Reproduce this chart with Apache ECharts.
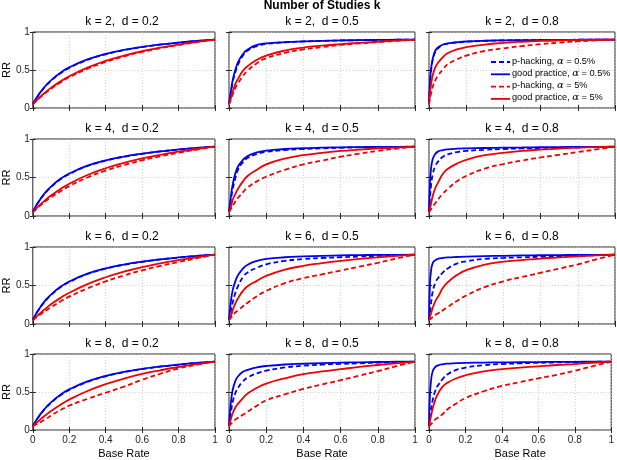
<!DOCTYPE html>
<html><head><meta charset="utf-8">
<script src="https://cdn.jsdelivr.net/npm/echarts@6/dist/echarts.min.js"></script>
<style>html,body{margin:0;padding:0;background:#fff}#c{width:617px;height:460px}</style>
</head><body><div id="c"></div>
<script>
// ---------- data ----------
const baseRate = [0, 0.005, 0.01, 0.02, 0.035, 0.05, 0.075, 0.1, 0.15, 0.2, 0.3, 0.4, 0.5, 0.6, 0.7, 0.8, 0.9, 1];
const xTickLabels = ['0', '0.2', '0.4', '0.6', '0.8', '1'];
const yTickLabels = ['0', '0.5', '1'];
const kValues = [2, 4, 6, 8];
const dValues = [0.2, 0.5, 0.8];
const seriesNames = ['p-hacking, α = 0.5%', 'good practice, α = 0.5%', 'p-hacking, α = 5%', 'good practice, α = 5%'];

// k = 2
const k2d02_phB = [0.05,0.071,0.091,0.130,0.182,0.230,0.300,0.358,0.455,0.528,0.634,0.707,0.761,0.801,0.833,0.859,0.881,0.90];
const k2d02_gpB = [0.05,0.072,0.093,0.133,0.187,0.234,0.305,0.364,0.461,0.534,0.640,0.712,0.765,0.805,0.836,0.861,0.883,0.90];
const k2d02_phR = [0.05,0.061,0.073,0.096,0.129,0.160,0.208,0.254,0.334,0.404,0.517,0.606,0.678,0.738,0.787,0.829,0.866,0.90];
const k2d02_gpR = [0.05,0.063,0.075,0.100,0.135,0.167,0.219,0.265,0.347,0.418,0.532,0.620,0.690,0.748,0.795,0.835,0.870,0.90];

const k2d05_phB = [0.05,0.12,0.20,0.34,0.48,0.58,0.69,0.755,0.815,0.843,0.864,0.875,0.883,0.888,0.892,0.895,0.898,0.90];
const k2d05_gpB = [0.05,0.14,0.22,0.37,0.51,0.61,0.71,0.77,0.83,0.85,0.867,0.877,0.884,0.889,0.893,0.896,0.898,0.90];
const k2d05_phR = [0.05,0.08,0.11,0.18,0.27,0.33,0.42,0.49,0.59,0.655,0.725,0.77,0.80,0.83,0.85,0.866,0.883,0.90];
const k2d05_gpR = [0.05,0.09,0.13,0.22,0.32,0.39,0.49,0.55,0.635,0.69,0.755,0.795,0.82,0.84,0.857,0.872,0.886,0.90];

const k2d08_phB = [0.05,0.30,0.46,0.63,0.745,0.79,0.828,0.845,0.862,0.872,0.883,0.889,0.892,0.895,0.897,0.898,0.899,0.90];
const k2d08_gpB = [0.05,0.33,0.49,0.65,0.76,0.80,0.835,0.85,0.865,0.875,0.885,0.89,0.893,0.895,0.897,0.898,0.899,0.90];
const k2d08_phR = [0.05,0.12,0.18,0.28,0.37,0.43,0.51,0.575,0.64,0.69,0.75,0.785,0.815,0.84,0.86,0.877,0.89,0.90];
const k2d08_gpR = [0.05,0.18,0.29,0.43,0.54,0.60,0.67,0.72,0.77,0.80,0.835,0.857,0.872,0.883,0.89,0.895,0.898,0.90];

// k = 4
const k4d02_phB = [0.05,0.074,0.096,0.139,0.193,0.243,0.316,0.376,0.474,0.545,0.649,0.718,0.769,0.807,0.838,0.862,0.883,0.90];
const k4d02_gpB = [0.05,0.075,0.098,0.142,0.197,0.248,0.322,0.382,0.480,0.550,0.654,0.722,0.772,0.810,0.840,0.864,0.884,0.90];
const k4d02_phR = [0.05,0.061,0.072,0.094,0.125,0.154,0.200,0.243,0.320,0.388,0.500,0.590,0.662,0.724,0.776,0.821,0.862,0.90];
const k4d02_gpR = [0.05,0.063,0.075,0.100,0.135,0.167,0.219,0.265,0.347,0.418,0.532,0.620,0.690,0.748,0.795,0.835,0.870,0.90];

const k4d05_phB = [0.05,0.13,0.21,0.35,0.50,0.61,0.70,0.755,0.805,0.832,0.857,0.87,0.879,0.886,0.891,0.895,0.898,0.90];
const k4d05_gpB = [0.05,0.15,0.25,0.41,0.56,0.65,0.73,0.78,0.825,0.85,0.87,0.88,0.888,0.892,0.895,0.897,0.899,0.90];
const k4d05_phR = [0.05,0.07,0.09,0.13,0.19,0.24,0.31,0.37,0.45,0.51,0.60,0.67,0.72,0.77,0.81,0.845,0.875,0.90];
const k4d05_gpR = [0.05,0.08,0.11,0.21,0.29,0.36,0.45,0.52,0.60,0.67,0.745,0.79,0.82,0.845,0.862,0.877,0.889,0.90];

const k4d08_phB = [0.05,0.22,0.37,0.54,0.655,0.71,0.77,0.80,0.83,0.845,0.86,0.87,0.877,0.883,0.888,0.893,0.897,0.90];
const k4d08_gpB = [0.05,0.41,0.59,0.74,0.81,0.84,0.857,0.866,0.874,0.878,0.883,0.887,0.89,0.893,0.895,0.897,0.899,0.90];
const k4d08_phR = [0.05,0.065,0.085,0.12,0.17,0.22,0.29,0.35,0.45,0.52,0.615,0.675,0.72,0.76,0.795,0.83,0.865,0.90];
const k4d08_gpR = [0.05,0.10,0.15,0.26,0.37,0.44,0.55,0.61,0.68,0.73,0.79,0.82,0.845,0.862,0.876,0.886,0.894,0.90];

// k = 6
const k6d02_phB = [0.05,0.074,0.096,0.139,0.193,0.243,0.316,0.376,0.474,0.545,0.649,0.718,0.769,0.807,0.838,0.862,0.883,0.90];
const k6d02_gpB = [0.05,0.075,0.098,0.142,0.197,0.248,0.322,0.382,0.480,0.550,0.654,0.722,0.772,0.810,0.840,0.864,0.884,0.90];
const k6d02_phR = [0.05,0.059,0.068,0.087,0.114,0.140,0.180,0.218,0.290,0.355,0.462,0.553,0.630,0.697,0.755,0.806,0.854,0.90];
const k6d02_gpR = [0.05,0.061,0.073,0.097,0.130,0.161,0.210,0.256,0.336,0.405,0.518,0.607,0.679,0.739,0.788,0.830,0.867,0.90];

const k6d05_phB = [0.05,0.11,0.17,0.28,0.41,0.50,0.61,0.67,0.73,0.775,0.82,0.843,0.857,0.867,0.876,0.884,0.892,0.90];
const k6d05_gpB = [0.05,0.18,0.29,0.44,0.56,0.64,0.72,0.77,0.82,0.845,0.867,0.878,0.886,0.891,0.895,0.897,0.899,0.90];
const k6d05_phR = [0.05,0.065,0.08,0.11,0.15,0.18,0.23,0.275,0.36,0.43,0.53,0.595,0.645,0.695,0.745,0.795,0.85,0.90];
const k6d05_gpR = [0.05,0.075,0.10,0.18,0.27,0.34,0.43,0.49,0.56,0.625,0.705,0.755,0.79,0.82,0.845,0.865,0.884,0.90];

const k6d08_phB = [0.05,0.14,0.25,0.42,0.54,0.60,0.67,0.72,0.785,0.815,0.845,0.858,0.866,0.873,0.88,0.887,0.894,0.90];
const k6d08_gpB = [0.05,0.51,0.67,0.79,0.83,0.848,0.858,0.864,0.87,0.875,0.881,0.886,0.89,0.893,0.895,0.897,0.899,0.90];
const k6d08_phR = [0.05,0.06,0.07,0.09,0.12,0.14,0.18,0.22,0.30,0.37,0.48,0.555,0.61,0.665,0.72,0.775,0.84,0.90];
const k6d08_gpR = [0.05,0.09,0.13,0.21,0.30,0.36,0.47,0.54,0.635,0.70,0.77,0.81,0.83,0.85,0.865,0.878,0.89,0.90];

// k = 8
const k8d02_phB = [0.05,0.071,0.091,0.130,0.182,0.230,0.300,0.358,0.455,0.528,0.634,0.707,0.761,0.801,0.833,0.859,0.881,0.90];
const k8d02_gpB = [0.05,0.072,0.093,0.133,0.187,0.234,0.305,0.364,0.461,0.534,0.640,0.712,0.765,0.805,0.836,0.861,0.883,0.90];
const k8d02_phR = [0.05,0.056,0.062,0.075,0.095,0.115,0.15,0.19,0.26,0.32,0.41,0.49,0.57,0.66,0.74,0.81,0.86,0.90];
const k8d02_gpR = [0.05,0.061,0.072,0.095,0.127,0.157,0.205,0.250,0.330,0.400,0.513,0.603,0.676,0.737,0.786,0.829,0.866,0.90];

const k8d05_phB = [0.05,0.13,0.22,0.37,0.49,0.56,0.64,0.69,0.745,0.78,0.823,0.845,0.86,0.87,0.878,0.886,0.893,0.90];
const k8d05_gpB = [0.05,0.24,0.36,0.53,0.65,0.71,0.765,0.79,0.825,0.842,0.862,0.872,0.88,0.886,0.891,0.895,0.898,0.90];
const k8d05_phR = [0.05,0.065,0.08,0.105,0.14,0.165,0.20,0.24,0.32,0.39,0.47,0.54,0.60,0.655,0.715,0.775,0.84,0.90];
const k8d05_gpR = [0.05,0.10,0.14,0.22,0.30,0.35,0.42,0.48,0.555,0.61,0.68,0.735,0.77,0.80,0.83,0.855,0.878,0.90];

const k8d08_phB = [0.05,0.15,0.25,0.39,0.52,0.59,0.67,0.73,0.79,0.82,0.853,0.868,0.877,0.884,0.889,0.893,0.897,0.90];
const k8d08_gpB = [0.05,0.45,0.62,0.77,0.83,0.85,0.865,0.873,0.879,0.883,0.887,0.89,0.892,0.894,0.896,0.897,0.899,0.90];
const k8d08_phR = [0.05,0.06,0.075,0.10,0.14,0.165,0.21,0.27,0.35,0.42,0.51,0.58,0.63,0.68,0.725,0.78,0.84,0.90];
const k8d08_gpR = [0.05,0.11,0.17,0.28,0.40,0.48,0.57,0.62,0.68,0.72,0.77,0.80,0.82,0.838,0.855,0.868,0.885,0.90];

const panels = [
  [k2d02_phB, k2d02_gpB, k2d02_phR, k2d02_gpR], [k2d05_phB, k2d05_gpB, k2d05_phR, k2d05_gpR], [k2d08_phB, k2d08_gpB, k2d08_phR, k2d08_gpR],
  [k4d02_phB, k4d02_gpB, k4d02_phR, k4d02_gpR], [k4d05_phB, k4d05_gpB, k4d05_phR, k4d05_gpR], [k4d08_phB, k4d08_gpB, k4d08_phR, k4d08_gpR],
  [k6d02_phB, k6d02_gpB, k6d02_phR, k6d02_gpR], [k6d05_phB, k6d05_gpB, k6d05_phR, k6d05_gpR], [k6d08_phB, k6d08_gpB, k6d08_phR, k6d08_gpR],
  [k8d02_phB, k8d02_gpB, k8d02_phR, k8d02_gpR], [k8d05_phB, k8d05_gpB, k8d05_phR, k8d05_gpR], [k8d08_phB, k8d08_gpB, k8d08_phR, k8d08_gpR]
];

// ---------- layout / style ----------
const colLeft = [29, 229, 429];
const rowTop = [32, 139, 247, 354];
const rowH = [76, 77, 77, 78];
const panelW = 186;
const FONT = 'Liberation Sans, Arial, Helvetica, sans-serif';
const INK = '#262626';
const colors = ['#0000f0', '#0000f0', '#f00000', '#f00000'];
const dashed = [true, false, true, false];
const DASH = [5, 3];

const grids = [], xAxes = [], yAxes = [], series = [], titles = [];
titles.push({text: 'Number of Studies k', left: 322, top: 0, textAlign: 'center', padding: 0,
  textStyle: {fontSize: 12, fontWeight: 'bold', color: '#000', fontFamily: FONT}});

const extraX = [], extraY = [];
for (let r = 0; r < 4; r++) {
  for (let c = 0; c < 3; c++) {
    const idx = r * 3 + c;
    grids.push({left: colLeft[c], top: rowTop[r], width: panelW, height: rowH[r],
      show: true, borderColor: INK, borderWidth: 1, backgroundColor: 'transparent', containLabel: false});
    titles.push({text: 'k = ' + kValues[r] + ',  d = ' + dValues[c], left: colLeft[c] + panelW / 2,
      top: rowTop[r] - 16, textAlign: 'center', padding: 0,
      textStyle: {fontSize: 12, fontWeight: 'normal', color: '#000', fontFamily: FONT}});
    xAxes.push({type: 'value', gridIndex: idx, min: 0, max: 1, interval: 0.2,
      axisLine: {show: false},
      axisTick: {show: true, inside: true, length: 3, lineStyle: {color: INK}},
      axisLabel: {show: r === 3, fontSize: 10, color: INK, margin: 5, fontFamily: FONT,
        formatter: v => xTickLabels[Math.round(v / 0.2)]},
      splitLine: {show: true, lineStyle: {color: '#c4c4c4', type: [1, 2], width: 0.8}},
      name: r === 3 ? 'Base Rate' : '', nameLocation: 'middle', nameGap: 18,
      nameTextStyle: {fontSize: 11, color: '#000', fontFamily: FONT}});
    yAxes.push({type: 'value', gridIndex: idx, min: 0, max: 1, interval: 0.5,
      axisLine: {show: false},
      axisTick: {show: true, inside: true, length: 3, lineStyle: {color: INK}},
      axisLabel: {show: c === 0, fontSize: 10, color: INK, margin: 3, fontFamily: FONT,
        formatter: v => yTickLabels[Math.round(v / 0.5)]},
      splitLine: {show: true, lineStyle: {color: '#c4c4c4', type: [1, 2], width: 0.8}},
      name: c === 0 ? 'RR' : '', nameLocation: 'middle', nameGap: 14,
      nameTextStyle: {fontSize: 11, color: '#000', fontFamily: FONT}});
    extraX.push({type: 'value', gridIndex: idx, position: 'top', min: 0, max: 1, interval: 0.2,
      axisLine: {show: false}, axisTick: {show: true, inside: true, length: 3, lineStyle: {color: INK}},
      axisLabel: {show: false}, splitLine: {show: false}});
    extraY.push({type: 'value', gridIndex: idx, position: 'right', min: 0, max: 1, interval: 0.5,
      axisLine: {show: false}, axisTick: {show: true, inside: true, length: 3, lineStyle: {color: INK}},
      axisLabel: {show: false}, splitLine: {show: false}});
    panels[idx].forEach((vals, s) => {
      series.push({type: 'line', name: seriesNames[s], xAxisIndex: idx, yAxisIndex: idx,
        data: baseRate.map((x, i) => [x, vals[i]]),
        symbol: 'none', showSymbol: false, smooth: 0.5,
        lineStyle: {color: colors[s], width: 1.8, type: dashed[s] ? DASH : 'solid'},
        itemStyle: {color: colors[s]}, emphasis: {disabled: true}, silent: true, z: 2 + s});
    });
  }
}

// legend (drawn as graphic: sample line + real text), inside panel k=2, d=0.8
const legendLeft = 491, legendTop = 62, legendStep = 12.3;
const legendGraphics = [];
seriesNames.forEach((name, s) => {
  const y = legendTop + s * legendStep;
  legendGraphics.push({type: 'line', shape: {x1: legendLeft, y1: y, x2: legendLeft + 19, y2: y}, z: 100,
    style: {stroke: colors[s], lineWidth: 1.8, lineDash: dashed[s] ? DASH : null}, silent: true});
  const parts = name.split('α');
  legendGraphics.push({type: 'text', left: legendLeft + 21, top: y - 6, z: 100, silent: true,
    style: {text: parts[0] + '{a|α}' + parts[1], fill: '#000', font: '9.2px ' + FONT, verticalAlign: 'top',
      rich: {a: {fontSize: 10, fontStyle: 'italic', fontFamily: 'DejaVu Serif, serif', fill: '#000'}}}});
});

const chart = echarts.init(document.getElementById('c'), null, {renderer: 'canvas'});
chart.setOption({
  animation: false,
  backgroundColor: '#fff',
  textStyle: {fontFamily: FONT},
  title: titles,
  grid: grids,
  xAxis: xAxes.concat(extraX),
  yAxis: yAxes.concat(extraY),
  graphic: legendGraphics,
  series: series
});
</script>
</body></html>
